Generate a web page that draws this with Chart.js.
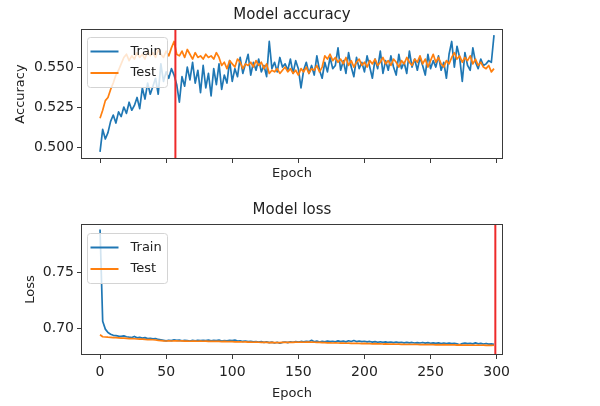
<!DOCTYPE html>
<html>
<head>
<meta charset="utf-8">
<title>Model accuracy / Model loss</title>
<script src="https://cdn.jsdelivr.net/npm/chart.js@4.4.0/dist/chart.umd.min.js"></script>
<style>
  html, body { margin: 0; padding: 0; background: #fff; }
  #wrap { position: relative; width: 600px; height: 406px; }
  canvas { position: absolute; left: 0; }
  #acc-chart { top: 0; }
  #loss-chart { top: 195px; }
</style>
</head>
<body>
<div id="wrap">
  <canvas id="acc-chart" width="600" height="195"></canvas>
  <canvas id="loss-chart" width="600" height="211"></canvas>
</div>
<script>
// ── Data (every 2nd epoch) ───────────────────────────────────
const epochs = [
  0, 2, 4, 6, 8, 10, 12, 14, 16, 18,
  20, 22, 24, 26, 28, 30, 32, 34, 36, 38,
  40, 42, 44, 46, 48, 50, 52, 54, 56, 58,
  60, 62, 64, 66, 68, 70, 72, 74, 76, 78,
  80, 82, 84, 86, 88, 90, 92, 94, 96, 98,
  100, 102, 104, 106, 108, 110, 112, 114, 116, 118,
  120, 122, 124, 126, 128, 130, 132, 134, 136, 138,
  140, 142, 144, 146, 148, 150, 152, 154, 156, 158,
  160, 162, 164, 166, 168, 170, 172, 174, 176, 178,
  180, 182, 184, 186, 188, 190, 192, 194, 196, 198,
  200, 202, 204, 206, 208, 210, 212, 214, 216, 218,
  220, 222, 224, 226, 228, 230, 232, 234, 236, 238,
  240, 242, 244, 246, 248, 250, 252, 254, 256, 258,
  260, 262, 264, 266, 268, 270, 272, 274, 276, 278,
  280, 282, 284, 286, 288, 290, 292, 294, 296, 298
];

const accTrain = [
  0.497, 0.511, 0.505, 0.509, 0.516, 0.520, 0.515, 0.522, 0.519, 0.525,
  0.521, 0.528, 0.523, 0.526, 0.531, 0.524, 0.537, 0.530, 0.540, 0.533,
  0.538, 0.543, 0.533, 0.552, 0.541, 0.547, 0.543, 0.549, 0.545, 0.539,
  0.528, 0.544, 0.538, 0.550, 0.542, 0.553, 0.540, 0.548, 0.534, 0.551,
  0.537, 0.546, 0.532, 0.549, 0.539, 0.552, 0.536, 0.545, 0.540, 0.554,
  0.541, 0.549, 0.544, 0.556, 0.546, 0.552, 0.558, 0.545, 0.553, 0.548,
  0.555, 0.547, 0.551, 0.544, 0.566, 0.549, 0.553, 0.547, 0.556, 0.550,
  0.552, 0.548, 0.555, 0.546, 0.554, 0.549, 0.537, 0.548, 0.553, 0.546,
  0.551, 0.545, 0.557, 0.548, 0.543, 0.553, 0.547, 0.556, 0.549, 0.551,
  0.562, 0.548, 0.554, 0.546, 0.559, 0.550, 0.544, 0.556, 0.549, 0.553,
  0.547, 0.557, 0.550, 0.543, 0.555, 0.549, 0.560, 0.546, 0.554, 0.548,
  0.557, 0.550, 0.545, 0.558, 0.549, 0.553, 0.546, 0.560, 0.550, 0.555,
  0.548, 0.556, 0.551, 0.545, 0.558, 0.549, 0.554, 0.550, 0.557, 0.548,
  0.553, 0.543, 0.558, 0.566, 0.550, 0.563, 0.556, 0.541, 0.559, 0.551,
  0.548, 0.562, 0.553, 0.549, 0.555, 0.551, 0.552, 0.554, 0.553, 0.570
];

const accTest = [
  0.518, 0.523, 0.529, 0.531, 0.536, 0.540, 0.545, 0.548, 0.552, 0.556,
  0.558, 0.554, 0.557, 0.555, 0.559, 0.556, 0.558, 0.555, 0.560, 0.557,
  0.559, 0.556, 0.561, 0.558, 0.556, 0.560, 0.557, 0.562, 0.566, 0.558,
  0.557, 0.560, 0.556, 0.561, 0.558, 0.555, 0.559, 0.556, 0.557, 0.555,
  0.558, 0.556, 0.557, 0.555, 0.559, 0.556, 0.551, 0.553, 0.549, 0.554,
  0.552, 0.550, 0.555, 0.553, 0.549, 0.552, 0.551, 0.553, 0.550, 0.554,
  0.551, 0.553, 0.549, 0.552, 0.546, 0.548, 0.547, 0.549, 0.546, 0.548,
  0.550, 0.547, 0.549, 0.546, 0.548, 0.545, 0.549, 0.547, 0.550, 0.546,
  0.549, 0.548, 0.551, 0.547, 0.550, 0.557, 0.555, 0.558, 0.554, 0.556,
  0.553, 0.555, 0.552, 0.556, 0.551, 0.554, 0.550, 0.553, 0.555, 0.551,
  0.553, 0.550, 0.554, 0.552, 0.555, 0.551, 0.553, 0.556, 0.552, 0.554,
  0.551, 0.555, 0.553, 0.550, 0.554, 0.552, 0.556, 0.553, 0.551, 0.555,
  0.553, 0.557, 0.552, 0.555, 0.550, 0.554, 0.558, 0.553, 0.556, 0.552,
  0.550, 0.554, 0.552, 0.556, 0.559, 0.555, 0.557, 0.553, 0.556, 0.554,
  0.557, 0.552, 0.555, 0.551, 0.553, 0.550, 0.549, 0.551, 0.547, 0.549
];

const lossTrain = [
  0.7880, 0.7060, 0.6990, 0.6960, 0.6945, 0.6935, 0.6932, 0.6928, 0.6925, 0.6930,
  0.6922, 0.6918, 0.6915, 0.6925, 0.6912, 0.6916, 0.6910, 0.6914, 0.6905, 0.6908,
  0.6903, 0.6906, 0.6898, 0.6895, 0.6890, 0.6885, 0.6891, 0.6887, 0.6894, 0.6889,
  0.6892, 0.6886, 0.6890, 0.6888, 0.6884, 0.6889, 0.6886, 0.6891, 0.6887, 0.6890,
  0.6888, 0.6892, 0.6885, 0.6889, 0.6887, 0.6893, 0.6884, 0.6888, 0.6886, 0.6890,
  0.6887, 0.6893, 0.6883, 0.6886, 0.6880, 0.6884, 0.6878, 0.6882, 0.6876, 0.6879,
  0.6875, 0.6878, 0.6872, 0.6876, 0.6870, 0.6874, 0.6866, 0.6873, 0.6864, 0.6871,
  0.6875, 0.6870, 0.6877, 0.6873, 0.6879, 0.6874, 0.6880, 0.6876, 0.6882, 0.6878,
  0.6890, 0.6877, 0.6883, 0.6875, 0.6881, 0.6876, 0.6884, 0.6878, 0.6882, 0.6877,
  0.6885, 0.6879, 0.6883, 0.6876, 0.6886, 0.6880, 0.6888, 0.6879, 0.6884, 0.6878,
  0.6882, 0.6876, 0.6880, 0.6874, 0.6879, 0.6873, 0.6877, 0.6872, 0.6876, 0.6871,
  0.6875, 0.6870, 0.6874, 0.6869, 0.6873, 0.6868, 0.6872, 0.6867, 0.6871, 0.6866,
  0.6870, 0.6866, 0.6871, 0.6865, 0.6869, 0.6864, 0.6868, 0.6863, 0.6867, 0.6862,
  0.6866, 0.6861, 0.6865, 0.6860, 0.6864, 0.6859, 0.6850, 0.6861, 0.6865, 0.6860,
  0.6864, 0.6858, 0.6867, 0.6859, 0.6863, 0.6857, 0.6862, 0.6856, 0.6858, 0.6855
];

const lossTest = [
  0.6940, 0.6922, 0.6920, 0.6918, 0.6917, 0.6915, 0.6914, 0.6912, 0.6910, 0.6909,
  0.6908, 0.6906, 0.6905, 0.6904, 0.6902, 0.6901, 0.6900, 0.6898, 0.6897, 0.6896,
  0.6895, 0.6893, 0.6890, 0.6888, 0.6885, 0.6884, 0.6885, 0.6884, 0.6886, 0.6885,
  0.6884, 0.6885, 0.6883, 0.6884, 0.6882, 0.6883, 0.6884, 0.6882, 0.6883, 0.6882,
  0.6883, 0.6881, 0.6882, 0.6880, 0.6881, 0.6880, 0.6879, 0.6880, 0.6878, 0.6879,
  0.6878, 0.6877, 0.6876, 0.6877, 0.6875, 0.6876, 0.6874, 0.6875, 0.6873, 0.6874,
  0.6873, 0.6872, 0.6871, 0.6872, 0.6870, 0.6871, 0.6870, 0.6869, 0.6870, 0.6871,
  0.6872, 0.6871, 0.6873, 0.6872, 0.6874, 0.6873, 0.6874, 0.6873, 0.6875, 0.6874,
  0.6875, 0.6873, 0.6872, 0.6871, 0.6870, 0.6869, 0.6868, 0.6867, 0.6866, 0.6867,
  0.6866, 0.6865, 0.6866, 0.6864, 0.6865, 0.6863, 0.6864, 0.6862, 0.6863, 0.6861,
  0.6862, 0.6860, 0.6861, 0.6859, 0.6860, 0.6858, 0.6859, 0.6857, 0.6858, 0.6857,
  0.6856, 0.6857, 0.6855, 0.6856, 0.6854, 0.6855, 0.6853, 0.6854, 0.6853, 0.6854,
  0.6853, 0.6852, 0.6853, 0.6851, 0.6852, 0.6851, 0.6852, 0.6850, 0.6851, 0.6850,
  0.6851, 0.6850, 0.6849, 0.6850, 0.6849, 0.6848, 0.6849, 0.6848, 0.6847, 0.6848,
  0.6847, 0.6848, 0.6846, 0.6847, 0.6846, 0.6847, 0.6845, 0.6846, 0.6845, 0.6846
];

// red markers (best epoch)
const bestAccEpoch = 57;
const bestLossEpoch = 299;

// ticks
const xTicks = [0, 50, 100, 150, 200, 250, 300];
const accTicks = [0.500, 0.525, 0.550];
const accTickLabels = ['0.500', '0.525', '0.550'];
const lossTicks = [0.70, 0.75];
const lossTickLabels = ['0.70', '0.75'];

// axis limits
const xMin = -14.4, xMax = 304.8;
const accMin = 0.4925, accMax = 0.5738;
const lossMin = 0.6759, lossMax = 0.7929;

// ── Style ─────────────────────────────────────────────────────
const BLUE = '#1f77b4';
const ORANGE = '#ff7f0e';
const RED = '#ee2a2a';
const INK = '#222222';
const FONT = '"DejaVu Sans", sans-serif';

Chart.defaults.font.family = FONT;
Chart.defaults.color = INK;

const toPoints = vals => epochs.map((e, i) => ({ x: e, y: vals[i] }));

// axes frame (all four spines)
const framePlugin = {
  id: 'frame',
  afterDatasetsDraw(chart) {
    const { ctx, chartArea: a } = chart;
    ctx.save();
    ctx.strokeStyle = '#3a3a3a';
    ctx.lineWidth = 1;
    const l = Math.round(a.left) + 0.5, t = Math.round(a.top) + 0.5;
    const r = Math.round(a.right) - 0.5, b = Math.round(a.bottom) - 0.5;
    ctx.strokeRect(l, t, r - l, b - t);
    ctx.restore();
  }
};

// matplotlib-like legend box in the upper left of the axes
const legendBoxPlugin = {
  id: 'legendBox',
  afterDatasetsDraw(chart, args, opts) {
    const { ctx, chartArea: a } = chart;
    const items = chart.data.datasets.filter(d => d.inLegend);
    const x = Math.round(a.left) + 6.5, y = Math.round(a.top) + opts.offsetTop + 0.5;
    const w = 80, h = 50, rad = 3;
    ctx.save();
    ctx.beginPath();
    ctx.moveTo(x + rad, y);
    ctx.arcTo(x + w, y, x + w, y + h, rad);
    ctx.arcTo(x + w, y + h, x, y + h, rad);
    ctx.arcTo(x, y + h, x, y, rad);
    ctx.arcTo(x, y, x + w, y, rad);
    ctx.closePath();
    ctx.fillStyle = 'rgba(255,255,255,0.8)';
    ctx.fill();
    ctx.strokeStyle = '#d4d4d4';
    ctx.lineWidth = 1;
    ctx.stroke();

    ctx.font = '13px ' + FONT;
    ctx.textBaseline = 'middle';
    items.forEach((d, i) => {
      const ly = y + 14 + i * 21.5;
      ctx.strokeStyle = d.borderColor;
      ctx.lineWidth = 2;
      ctx.beginPath();
      ctx.moveTo(x + 3, ly);
      ctx.lineTo(x + 31, ly);
      ctx.stroke();
      ctx.fillStyle = INK;
      ctx.fillText(d.label, x + 43, ly);
    });
    ctx.restore();
  }
};

function makeChart(canvasId, cfg) {
  return new Chart(document.getElementById(canvasId), {
    type: 'line',
    data: {
      datasets: [
        { label: 'Train', data: toPoints(cfg.train), borderColor: BLUE, borderWidth: 1.7, order: 3, inLegend: true },
        { label: 'Test', data: toPoints(cfg.test), borderColor: ORANGE, borderWidth: 1.7, order: 2, inLegend: true },
        { label: 'best', data: [{ x: cfg.best, y: cfg.yMin }, { x: cfg.best, y: cfg.yMax }], borderColor: RED, borderWidth: 2, order: 1, inLegend: false }
      ]
    },
    options: {
      responsive: false,
      animation: false,
      events: [],
      elements: { point: { radius: 0 }, line: { tension: 0, borderJoinStyle: 'round' } },
      layout: { padding: { left: 0, right: 97, top: 0, bottom: 0 } },
      plugins: {
        legend: { display: false },
        tooltip: { enabled: false },
        title: {
          display: true, text: cfg.title, color: INK, fullSize: false,
          font: { size: 15, weight: 'normal', lineHeight: 1.2 },
          padding: { top: 6, bottom: 5 }
        },
        legendBox: { offsetTop: cfg.legendTop }
      },
      scales: {
        x: {
          type: 'linear', min: xMin, max: xMax,
          afterBuildTicks: s => { s.ticks = xTicks.map(v => ({ value: v })); },
          afterFit: s => { s.height = cfg.xHeight; },
          grid: { drawOnChartArea: false, drawTicks: true, tickLength: 4, color: '#3a3a3a' },
          border: { display: false },
          ticks: {
            autoSkip: false, maxRotation: 0, padding: 5, color: INK,
            font: { size: 14 },
            callback: v => cfg.xLabels ? String(v) : ''
          },
          title: {
            display: true, text: 'Epoch', color: INK,
            font: { size: 13, lineHeight: 1.2 },
            padding: { top: 0, bottom: cfg.xTitlePad }
          }
        },
        y: {
          min: cfg.yMin, max: cfg.yMax,
          afterBuildTicks: s => { s.ticks = cfg.yTicks.map(v => ({ value: v })); },
          afterFit: s => { s.width = 81; },
          grid: { drawOnChartArea: false, drawTicks: true, tickLength: 4, color: '#3a3a3a' },
          border: { display: false },
          ticks: {
            padding: 3, color: INK, font: { size: 14 },
            callback: (v, i) => cfg.yTickLabels[i]
          },
          title: {
            display: true, text: cfg.yTitle, color: INK,
            font: { size: 13, lineHeight: 1.2 },
            padding: { top: cfg.yTitlePad, bottom: 0 }
          }
        }
      }
    },
    plugins: [framePlugin, legendBoxPlugin]
  });
}

makeChart('acc-chart', {
  title: 'Model accuracy', yTitle: 'Accuracy',
  train: accTrain, test: accTest, best: bestAccEpoch,
  yMin: accMin, yMax: accMax, yTicks: accTicks, yTickLabels: accTickLabels,
  xLabels: false, xHeight: 36, xTitlePad: 14, yTitlePad: 13, legendTop: 8
});

makeChart('loss-chart', {
  title: 'Model loss', yTitle: 'Loss',
  train: lossTrain, test: lossTest, best: bestLossEpoch,
  yMin: lossMin, yMax: lossMax, yTicks: lossTicks, yTickLabels: lossTickLabels,
  xLabels: true, xHeight: 51, xTitlePad: 5, yTitlePad: 23, legendTop: 9
});
</script>
</body>
</html>
